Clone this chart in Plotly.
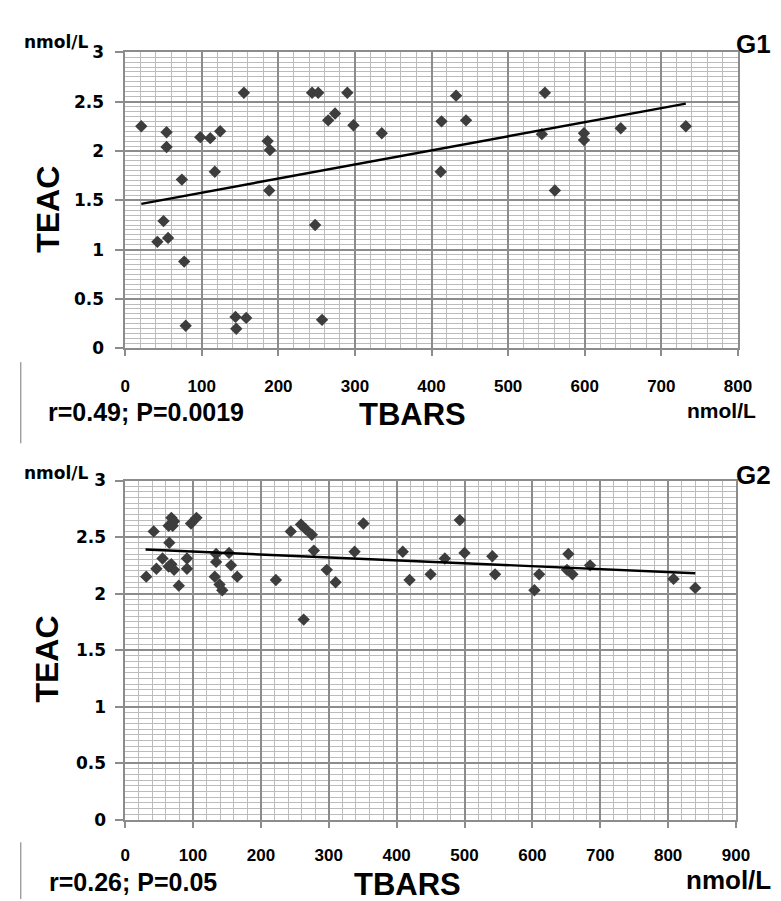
import plotly.graph_objects as go

# ---------------- data ----------------
g1_tbars = [21, 54, 54, 74, 98, 111, 124, 117, 155, 186, 189, 188, 244, 252, 265, 274, 290, 298, 335,
            432, 413, 445, 412, 548, 544, 561, 599, 599, 647, 732,
            50, 42, 56, 77, 79, 144, 145, 158, 248, 257]
g1_teac = [2.25, 2.19, 2.04, 1.71, 2.14, 2.13, 2.20, 1.79, 2.59, 2.10, 2.01, 1.60, 2.59, 2.59, 2.31, 2.38, 2.59, 2.26, 2.18,
           2.56, 2.30, 2.31, 1.79, 2.59, 2.17, 1.60, 2.18, 2.11, 2.23, 2.25,
           1.29, 1.08, 1.12, 0.88, 0.23, 0.32, 0.20, 0.31, 1.25, 0.29]
g1_trend_x = [21, 732]
g1_trend_y = [1.465, 2.48]

g2_tbars = [31, 42, 46, 55, 65, 64, 68, 72, 70, 68, 72, 64, 79, 91, 91, 97, 105, 134, 134, 132, 139, 143,
            153, 156, 165, 222, 244, 259, 266, 275, 278, 297, 310, 338, 351, 263,
            409, 419, 450, 471, 493, 500, 541, 545, 610, 603, 653, 651, 659, 685, 808, 840]
g2_teac = [2.15, 2.55, 2.22, 2.31, 2.45, 2.60, 2.67, 2.64, 2.60, 2.26, 2.21, 2.24, 2.07, 2.31, 2.22, 2.62, 2.67,
           2.35, 2.28, 2.15, 2.08, 2.03, 2.36, 2.25, 2.15, 2.12, 2.55, 2.61, 2.57, 2.52, 2.38, 2.21, 2.10,
           2.37, 2.62, 1.77,
           2.37, 2.12, 2.17, 2.31, 2.65, 2.36, 2.33, 2.17, 2.17, 2.03, 2.35, 2.21, 2.17, 2.25, 2.13, 2.05]
g2_trend_x = [30, 840]
g2_trend_y = [2.39, 2.18]

y_ticks = [0, 0.5, 1, 1.5, 2, 2.5, 3]
y_tick_labels = ["0", "0.5", "1", "1.5", "2", "2.5", "3"]
g1_x_ticks = [0, 100, 200, 300, 400, 500, 600, 700, 800]
g2_x_ticks = [0, 100, 200, 300, 400, 500, 600, 700, 800, 900]

# ---------------- layout helpers ----------------
W, H = 781, 901


def px(x):
    return x / W


def py(y):
    return 1 - y / H


MAJOR = "#8c8c8c"
MINOR = "#bcbcbc"
MARK = "#3d3d3d"

fig = go.Figure()

fig.add_trace(go.Scatter(x=g1_tbars, y=g1_teac, mode="markers", xaxis="x", yaxis="y",
                         marker=dict(symbol="diamond", size=9.5, color=MARK)))
fig.add_trace(go.Scatter(x=g1_trend_x, y=g1_trend_y, mode="lines", xaxis="x", yaxis="y",
                         line=dict(color="black", width=2.4)))
fig.add_trace(go.Scatter(x=g2_tbars, y=g2_teac, mode="markers", xaxis="x2", yaxis="y2",
                         marker=dict(symbol="diamond", size=9.5, color=MARK)))
fig.add_trace(go.Scatter(x=g2_trend_x, y=g2_trend_y, mode="lines", xaxis="x2", yaxis="y2",
                         line=dict(color="black", width=2.4)))

xtick_font = dict(family="Liberation Sans", size=17, color="black", weight="bold")
ytick_font = dict(family="DejaVu Sans", size=17, color="black", weight="bold")


def xaxis(domain, rng, ticks, anchor, standoff):
    return dict(domain=domain, range=rng, anchor=anchor, tickvals=ticks,
                ticktext=[str(t) for t in ticks], tickfont=xtick_font,
                showgrid=True, gridcolor=MAJOR, gridwidth=1.8,
                minor=dict(dtick=20, tick0=0, showgrid=True, gridcolor=MINOR, gridwidth=1),
                ticks="outside", ticklen=6, tickcolor=MAJOR, tickwidth=1.5,
                ticklabelstandoff=standoff,
                showline=True, linecolor=MAJOR, linewidth=1.5, mirror=True,
                zeroline=False, fixedrange=True)


def yaxis(domain, anchor, standoff):
    return dict(domain=domain, range=[0, 3], anchor=anchor, tickvals=y_ticks,
                ticktext=y_tick_labels, tickfont=ytick_font,
                showgrid=True, gridcolor=MAJOR, gridwidth=1.8,
                minor=dict(dtick=0.05, tick0=0, showgrid=True, gridcolor=MINOR, gridwidth=1),
                ticks="outside", ticklen=8, tickcolor=MAJOR, tickwidth=1.5,
                ticklabelstandoff=standoff,
                showline=True, linecolor=MAJOR, linewidth=1.5, mirror=True,
                zeroline=False, fixedrange=True)


fig.update_layout(
    width=W, height=H,
    margin=dict(l=0, r=0, t=0, b=0),
    paper_bgcolor="white", plot_bgcolor="white",
    showlegend=False, hovermode=False,
    xaxis=xaxis([px(115), px(743)], [0, 800], g1_x_ticks, "y", 15),
    yaxis=yaxis([py(338), py(35)], "x", 8),
    xaxis2=xaxis([px(115), px(741)], [0, 900], g2_x_ticks, "y2", 13),
    yaxis2=yaxis([py(820), py(473)], "x2", 6),
)

LS = "Liberation Sans"
DJ = "DejaVu Sans"


def label(text, x, y, size, family=LS, xanchor="left", angle=0):
    fig.add_annotation(text=text, x=px(x), y=py(y), xref="paper", yref="paper",
                       xanchor=xanchor, yanchor="middle", showarrow=False, textangle=angle,
                       font=dict(family=family, size=size, color="black", weight="bold"))


# top panel texts
label("nmol/L", 9, 25, 17, DJ)
label("G1", 779, 27, 26, LS, xanchor="right")
label("TEAC", 36, 196, 32, LS, xanchor="center", angle=-90)
label("r=0.49; P=0.0019", 34, 403, 25)
label("TBARS", 409, 405, 31, LS, xanchor="center")
label("nmol/L", 689, 401, 21)

# bottom panel texts
label("nmol/L", 9, 465, 17, DJ)
label("G2", 779, 467, 26, LS, xanchor="right")
label("TEAC", 35, 656, 32, LS, xanchor="center", angle=-90)
label("r=0.26; P=0.05", 35, 884, 25)
label("TBARS", 404, 886, 31, LS, xanchor="center")
label("nmol/L", 688, 882, 26)

# thin stray vertical rules at the left edge
for y0, y1 in [(352, 435), (843, 901)]:
    fig.add_shape(type="line", xref="paper", yref="paper", x0=px(8), x1=px(8),
                  y0=py(y0), y1=py(y1), line=dict(color="#777777", width=1))

fig.write_html("out.html")
